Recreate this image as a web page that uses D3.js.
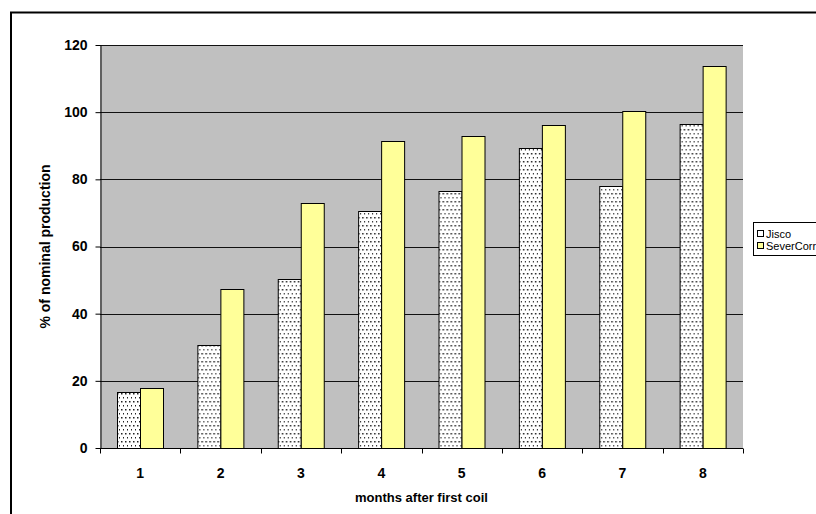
<!DOCTYPE html>
<html>
<head>
<meta charset="utf-8">
<script src="https://cdn.jsdelivr.net/npm/d3@7"></script>
<style>
  body { margin: 0; background: #fff; }
  svg text { font-family: Arial, "Liberation Sans", sans-serif; }
</style>
</head>
<body>
<div class="chart"></div>
<script>
// values
const months = ['1', '2', '3', '4', '5', '6', '7', '8'];
const seriesNames = ['Jisco', 'SeverCorr'];
const jisco = [16.6, 30.7, 50.4, 70.7, 76.5, 89.4, 78.0, 96.6];
const severCorr = [18.0, 47.3, 72.9, 91.4, 93.0, 96.3, 100.4, 113.7];
const yTicks = [0, 20, 40, 60, 80, 100, 120];

const width = 816, height = 514;
const plot = {left: 100, top: 45, right: 743, bottom: 448};

const svg = d3.select('div.chart')
  .append('svg')
  .attr('width', width)
  .attr('height', height);

// dotted fill, like the old excel pattern
const defs = svg.append('defs');
const pat = defs.append('pattern')
  .attr('id', 'dots')
  .attr('patternUnits', 'userSpaceOnUse')
  .attr('width', 4)
  .attr('height', 8);
pat.append('rect').attr('width', 4).attr('height', 8).attr('fill', '#fff');
pat.append('rect').attr('x', 1).attr('y', 1).attr('width', 1.5).attr('height', 1.5).attr('fill', '#222');
pat.append('rect').attr('x', 3).attr('y', 5).attr('width', 1.5).attr('height', 1.5).attr('fill', '#222');

// outer chart border (runs off the right/bottom edge)
svg.append('rect')
  .attr('x', 11).attr('y', 12.5)
  .attr('width', 830).attr('height', 530)
  .attr('fill', 'none')
  .attr('stroke', '#000')
  .attr('stroke-width', 2);

const x = d3.scaleBand()
  .domain(months)
  .range([plot.left, plot.right]);

const xInner = d3.scaleBand()
  .domain(seriesNames)
  .range([0, x.bandwidth()])
  .paddingOuter(0.75);

const y = d3.scaleLinear()
  .domain([0, 120])
  .range([plot.bottom, plot.top]);

// plot area
svg.append('rect')
  .attr('x', plot.left).attr('y', plot.top)
  .attr('width', plot.right - plot.left)
  .attr('height', plot.bottom - plot.top)
  .attr('fill', '#c0c0c0');

svg.append('g')
  .attr('class', 'grid')
  .selectAll('line')
  .data(yTicks.filter(d => d > 0))
  .enter().append('line')
    .attr('x1', plot.left).attr('x2', plot.right)
    .attr('y1', d => Math.round(y(d)) + 0.5)
    .attr('y2', d => Math.round(y(d)) + 0.5)
    .attr('stroke', '#111')
    .attr('stroke-width', 1);

// bars
const rows = months.map((m, i) => ({month: m, values: [
  {name: 'Jisco', value: jisco[i]},
  {name: 'SeverCorr', value: severCorr[i]}
]}));

const fills = {Jisco: 'url(#dots)', SeverCorr: '#ffff99'};

svg.append('g')
  .attr('class', 'bars')
  .selectAll('g')
  .data(rows)
  .enter().append('g')
    .attr('transform', d => `translate(${x(d.month)},0)`)
  .selectAll('rect')
  .data(d => d.values)
  .enter().append('rect')
    .attr('x', d => Math.round(xInner(d.name)) + 0.5)
    .attr('y', d => Math.round(y(d.value)) + 0.5)
    .attr('width', Math.round(xInner.bandwidth()))
    .attr('height', d => Math.round(y(0)) - Math.round(y(d.value)))
    .attr('fill', d => fills[d.name])
    .attr('stroke', '#000')
    .attr('stroke-width', 1);

// y axis
const yAxis = svg.append('g')
  .attr('transform', `translate(${plot.left + 0.5},0)`)
  .call(d3.axisLeft(y).tickValues(yTicks).tickSize(5).tickPadding(8).tickSizeOuter(0));
yAxis.select('.domain').attr('stroke', '#000');
yAxis.selectAll('.tick line').attr('stroke', '#000');
yAxis.selectAll('.tick text')
  .attr('font-size', 14)
  .attr('font-weight', 'bold')
  .attr('fill', '#000')
  .attr('font-family', 'Arial, "Liberation Sans", sans-serif');

// x axis: line, ticks on the category edges, labels in the middle
const xAxis = svg.append('g')
  .attr('transform', `translate(0,${plot.bottom + 0.5})`);
xAxis.append('line')
  .attr('x1', plot.left).attr('x2', plot.right)
  .attr('stroke', '#000');
xAxis.selectAll('line.edge')
  .data(months.map(m => x(m)).concat([plot.right]))
  .enter().append('line')
    .attr('class', 'edge')
    .attr('x1', d => Math.round(d) + 0.5).attr('x2', d => Math.round(d) + 0.5)
    .attr('y1', 0).attr('y2', 5)
    .attr('stroke', '#000');
xAxis.selectAll('text')
  .data(months)
  .enter().append('text')
    .attr('x', d => x(d) + x.bandwidth() / 2)
    .attr('y', 29)
    .attr('text-anchor', 'middle')
    .attr('font-size', 14)
    .attr('font-weight', 'bold')
    .text(d => d);

// axis titles
svg.append('text')
  .attr('transform', `translate(50,${(plot.top + plot.bottom) / 2}) rotate(-90)`)
  .attr('text-anchor', 'middle')
  .attr('font-size', 14)
  .attr('font-weight', 'bold')
  .text('% of nominal production');

svg.append('text')
  .attr('x', (plot.left + plot.right) / 2)
  .attr('y', 502)
  .attr('text-anchor', 'middle')
  .attr('font-size', 13)
  .attr('font-weight', 'bold')
  .text('months after first coil');

// legend, clipped by the page edge like the original
const legend = svg.append('g')
  .attr('transform', 'translate(753,222)');
legend.append('rect')
  .attr('x', 0.5).attr('y', 0.5)
  .attr('width', 80).attr('height', 33)
  .attr('fill', '#fff')
  .attr('stroke', '#000');
seriesNames.forEach((name, i) => {
  const row = legend.append('g').attr('transform', `translate(4,${8 + i * 12})`);
  row.append('rect')
    .attr('x', 0.5).attr('y', 0.5)
    .attr('width', 6).attr('height', 6)
    .attr('fill', name === 'Jisco' ? '#fff' : fills[name])
    .attr('stroke', '#000');
  row.append('text')
    .attr('x', 9)
    .attr('y', 7.5)
    .attr('font-size', 11)
    .text(name);
});
</script>
</body>
</html>
